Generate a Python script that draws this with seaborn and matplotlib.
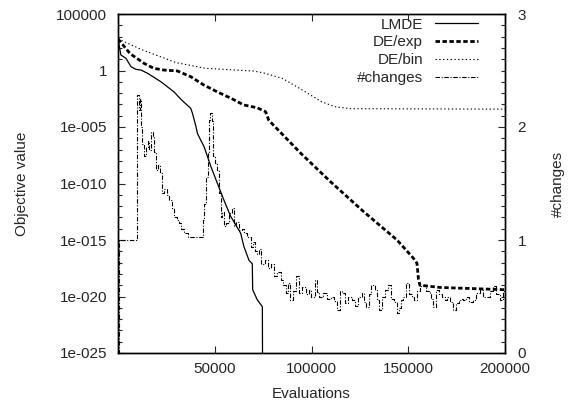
import numpy as np
import matplotlib
matplotlib.use("Agg")
import matplotlib.pyplot as plt
import seaborn as sns

# LMDE: evaluations and log10(objective value)
lmde_eval = [0, 1500, 4100, 6700, 9300, 11900, 15300, 22200, 29000, 32500,
             37600, 38500, 40200, 41100, 44500, 48000, 51400, 54800, 58200, 63400,
             65100, 67700, 69400, 69600, 72000, 74600, 74700]
lmde_log = [2.8, 1.37, 1.08, 0.34, 0.1, 0.04, -0.25, -1.0, -1.9, -2.55,
            -3.35, -3.8, -4.9, -5.6, -6.75, -8.5, -10.0, -11.5, -12.9, -14.4,
            -15.6, -16.8, -17.1, -19.4, -20.3, -20.9, -26.0]

# DE/exp
exp_eval = [0, 6200, 13400, 18500, 23700, 30700, 37600, 44300, 51400, 58300,
            65000, 72000, 76300, 77900, 94300, 109800, 127000, 144200, 152700, 154500,
            155300, 156000, 166500, 200000]
exp_log = [2.8, 1.5, 0.64, 0.19, 0.04, -0.04, -0.55, -1.28, -1.9, -2.45,
           -3.05, -3.3, -3.65, -4.4, -7.3, -9.84, -12.5, -15.0, -16.62, -17.06,
           -18.5, -19.0, -19.2, -19.4]

# DE/bin
bin_eval = [0, 12900, 30000, 45000, 60000, 70000, 75000, 85000, 95000, 105000,
            112000, 120000, 200000]
bin_log = [2.8, 1.8, 0.7, 0.2, 0.05, -0.05, -0.2, -0.7, -1.7, -2.75,
           -3.2, -3.38, -3.42]

# #changes (right axis)
chg_eval = [0, 500, 9300, 9600, 10000, 10800, 11400, 12000, 12600, 13500,
            14500, 15500, 16200, 17000, 18000, 18800, 19500, 20500, 21500, 22500,
            24000, 25500, 26500, 28000, 29000, 30500, 31500, 32500, 34000, 36000,
            40000, 43000, 43800, 44600, 45500, 46300, 46800, 47600, 48400, 49000,
            50000, 51400, 52300, 53200, 54000, 54800, 56000, 57500, 59100, 60000,
            61200, 62600, 64000, 65000, 66800, 68500, 70000, 71000, 72000, 73000,
            74000, 76000, 77500, 79000, 80500, 82000, 84000, 85500, 87000, 88000,
            89000, 90500, 92000, 93500, 95000, 97000, 98500, 100000, 102000, 103000,
            104000, 106000, 108000, 110000, 111500, 113000, 114500, 116000, 117500, 119000,
            121000, 122500, 124000, 126000, 127000, 128000, 129500, 131000, 133000, 134000,
            135000, 136500, 138000, 139500, 141000, 142500, 144000, 145000, 146000, 147500,
            149000, 150500, 152000, 153000, 154500, 156000, 157500, 159000, 161000, 162000,
            163000, 164500, 166000, 167500, 169000, 170000, 171500, 173000, 174500, 176000,
            177500, 178500, 180000, 181500, 183500, 185000, 187000, 188500, 190500, 192000,
            194000, 195500, 197500, 199000, 200000]
chg_val = [0.0, 1.0, 1.0, 1.55, 2.28, 2.15, 2.25, 2.0, 1.85, 1.74,
           1.82, 1.88, 1.8, 1.96, 1.91, 1.78, 1.62, 1.66, 1.59, 1.42,
           1.45, 1.4, 1.35, 1.28, 1.2, 1.18, 1.15, 1.1, 1.06, 1.03,
           1.03, 1.03, 1.18, 1.32, 1.56, 1.77, 2.06, 2.12, 2.05, 1.74,
           1.68, 1.62, 1.42, 1.2, 1.25, 1.12, 1.15, 1.24, 1.28, 1.12,
           1.16, 1.09, 1.1, 1.06, 1.03, 0.94, 0.98, 0.9, 0.88, 0.92,
           0.79, 0.82, 0.75, 0.79, 0.68, 0.72, 0.65, 0.6, 0.53, 0.62,
           0.47, 0.55, 0.68, 0.53, 0.58, 0.52, 0.56, 0.5, 0.65, 0.54,
           0.5, 0.53, 0.48, 0.5, 0.46, 0.38, 0.55, 0.53, 0.44, 0.5,
           0.47, 0.42, 0.5, 0.53, 0.45, 0.41, 0.52, 0.6, 0.56, 0.47,
           0.38, 0.5, 0.56, 0.6, 0.48, 0.45, 0.35, 0.4, 0.47, 0.5,
           0.62, 0.52, 0.5, 0.47, 0.55, 0.59, 0.6, 0.55, 0.53, 0.48,
           0.41, 0.56, 0.52, 0.5, 0.47, 0.5, 0.45, 0.38, 0.44, 0.47,
           0.48, 0.47, 0.5, 0.45, 0.47, 0.53, 0.56, 0.5, 0.5, 0.55,
           0.59, 0.52, 0.47, 0.55, 0.41]

y_ticks = [1e5, 1, 1e-5, 1e-10, 1e-15, 1e-20, 1e-25]
y_labels = ["100000", "1", "1e-005", "1e-010", "1e-015", "1e-020", "1e-025"]
x_ticks = [50000, 100000, 150000, 200000]
x_labels = ["50000", "100000", "150000", "200000"]

sns.set_style("ticks")
plt.rcParams["font.family"] = ["Liberation Sans", "DejaVu Sans"]
plt.rcParams["font.size"] = 11

fig = plt.figure(figsize=(5.69, 4.07), dpi=100)
ax = fig.add_axes([118 / 569, 1 - 353 / 407, 387 / 569, 339 / 407])
ax2 = ax.twinx()

sns.lineplot(x=lmde_eval, y=10.0 ** np.array(lmde_log), ax=ax, color="black",
             lw=0.9, estimator=None, label="LMDE", legend=False)
sns.lineplot(x=exp_eval, y=10.0 ** np.array(exp_log), ax=ax, color="black",
             lw=2.0, estimator=None, label="DE/exp", legend=False)
sns.lineplot(x=bin_eval, y=10.0 ** np.array(bin_log), ax=ax, color="black",
             lw=0.8, estimator=None, label="DE/bin", legend=False)
sns.lineplot(x=chg_eval, y=chg_val, ax=ax2, color="black", lw=0.8,
             estimator=None, label="#changes", legend=False, drawstyle="steps-post")

lines = ax.get_lines() + ax2.get_lines()
lines[1].set_dashes((1.6, 0.9))
lines[2].set_dashes((1.2, 2.2))
lines[3].set_dashes((4, 1.5, 1, 1.5))

ax.set_yscale("log")
ax.set_ylim(1e-25, 1e5)
ax.set_xlim(0, 200000)
ax.set_yticks(y_ticks, y_labels)
ax.set_yticks(10.0 ** np.arange(-25, 6), minor=True)
ax.yaxis.set_minor_formatter(matplotlib.ticker.NullFormatter())
ax.set_xticks(x_ticks, x_labels)
ax.tick_params(axis="both", which="both", direction="in", top=True, right=False,
               width=0.8, pad=8, labelsize=11)
ax.tick_params(axis="both", which="major", length=5)
ax.tick_params(axis="both", which="minor", length=3)
ax.tick_params(axis="x", pad=6.5)

ax2.set_ylim(0, 3)
ax2.set_yticks([0, 1, 2, 3])
ax2.set_yticks(np.arange(0, 3.01, 0.1), minor=True)
ax2.tick_params(axis="y", which="both", direction="in", width=0.8, pad=9, labelsize=11)
ax2.tick_params(axis="y", which="major", length=5)
ax2.tick_params(axis="y", which="minor", length=3)

for a in (ax, ax2):
    for s in a.spines.values():
        s.set_linewidth(1.0)
        s.set_color("black")

ax.set_xlabel("Evaluations", fontsize=11, labelpad=8)
ax.set_ylabel("Objective value", fontsize=11, labelpad=19)
ax2.set_ylabel("#changes", fontsize=11, labelpad=18)

ax2.legend(lines, [l.get_label() for l in lines], loc="upper right",
           bbox_to_anchor=(0.95, 1.012), frameon=False, markerfirst=False,
           handlelength=2.8, handletextpad=0.8, labelspacing=0.25, borderpad=0,
           fontsize=11)

fig.savefig("out.png", dpi=100)
